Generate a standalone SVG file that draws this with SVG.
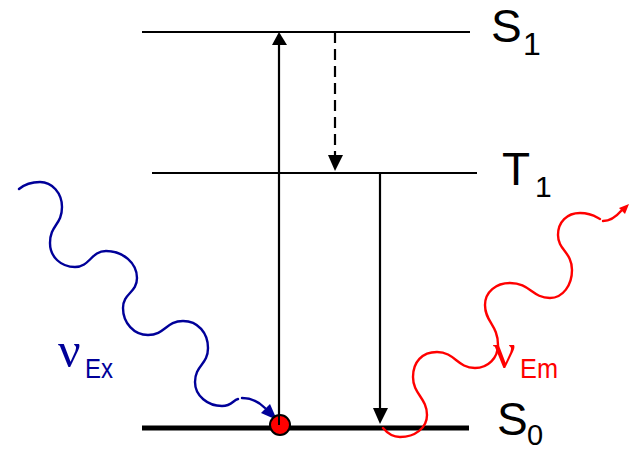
<svg xmlns="http://www.w3.org/2000/svg" width="629" height="450" viewBox="0 0 629 450">
<style>
.lvl{stroke:#000;stroke-width:2.2;fill:none}
.ar{stroke:#000;stroke-width:2.2;fill:none}
.lab{font-family:"Liberation Sans",Arial,sans-serif;fill:#000}
.wave{fill:none;stroke-width:2.4;stroke-linejoin:round;stroke-linecap:round}
.sub{font-family:"Liberation Sans",Arial,sans-serif;font-size:28px}
</style>
<rect width="629" height="450" fill="#fff"/>
<g id="S1">
<line class="lvl" x1="142" y1="32" x2="470" y2="32"/>
<text class="lab" x="491" y="42" font-size="46">S</text>
<text class="lab" x="523" y="55" font-size="32">1</text>
</g>
<g id="T1">
<line class="lvl" x1="152" y1="173" x2="477" y2="173"/>
<text class="lab" x="502" y="185" font-size="46">T</text>
<text class="lab" x="535" y="197" font-size="30">1</text>
</g>
<g id="S0">
<line x1="142" y1="428" x2="469" y2="428" stroke="#000" stroke-width="5"/>
<text class="lab" x="497" y="435" font-size="46">S</text>
<text class="lab" x="527" y="445" font-size="29">0</text>
</g>
<g id="connectors">
<line class="ar" x1="279" y1="425" x2="279" y2="44"/>
<polygon points="279,32 272,45 287,45" fill="#000"/>
<line class="ar" x1="335" y1="32" x2="335" y2="156" stroke-dasharray="11,6"/>
<polygon points="335,171 328,155 343,155" fill="#000"/>
<line class="ar" x1="380" y1="173" x2="380" y2="410"/>
<polygon points="380,424 373,408 388,408" fill="#000"/>
</g>
<g id="excitation">
<path class="wave" stroke="#000099" d="M19,189 C25,184 32,182 40,182 C52,182 62,193 62,207 C62,225 50,225 50,243 C50,257 61,267 75,267 C90,267 91,251 106,251 C123,251 137,263 137,278 C137,293 123,293 123,308 C123,323 134,335 148,335 C165,335 166,321 183,321 C198,321 208,333 208,348 C208,365 195,365 195,382 C195,396 208,406 222,406 C232,406 233,400 238,399 M242,398 C252,398 259,402 265,408"/>
<polygon points="277,420 261,413 270,404" fill="#000099"/>
<text x="58" y="367" font-family="Liberation Serif,serif" font-size="50" fill="#000099">ν</text>
<text class="sub" x="85" y="378" fill="#000099" textLength="28" lengthAdjust="spacingAndGlyphs">Ex</text>
</g>
<g id="excited-dot">
<circle cx="280" cy="425" r="10" fill="#ff0000" stroke="#000" stroke-width="2"/>
<line x1="279" y1="415" x2="279" y2="425" stroke="#000" stroke-width="2"/>
</g>
<g id="emission">
<path class="wave" stroke="#ff0000" d="M383,428 C388,434 393,437 400,437 C415,437 427,428 427,415 C427,398 413,394 413,377 C413,362 422,352 437,352 C455,352 457,368 475,368 C488,368 498,358 498,345 C498,325 485,322 485,305 C485,292 496,283 510,283 C530,283 532,298 550,298 C563,298 572,285 572,270 C572,252 558,250 558,235 C558,222 567,213 580,213 C592,213 596,217 600,219 M603,221 C610,221 615,218 621,211"/>
<polygon points="629,204 619,208 625,214" fill="#ff0000"/>
<text x="493" y="368" font-family="Liberation Serif,serif" font-size="50" fill="#ff0000">ν</text>
<text class="sub" x="520" y="378" fill="#ff0000" textLength="38" lengthAdjust="spacingAndGlyphs">Em</text>
</g>
</svg>
